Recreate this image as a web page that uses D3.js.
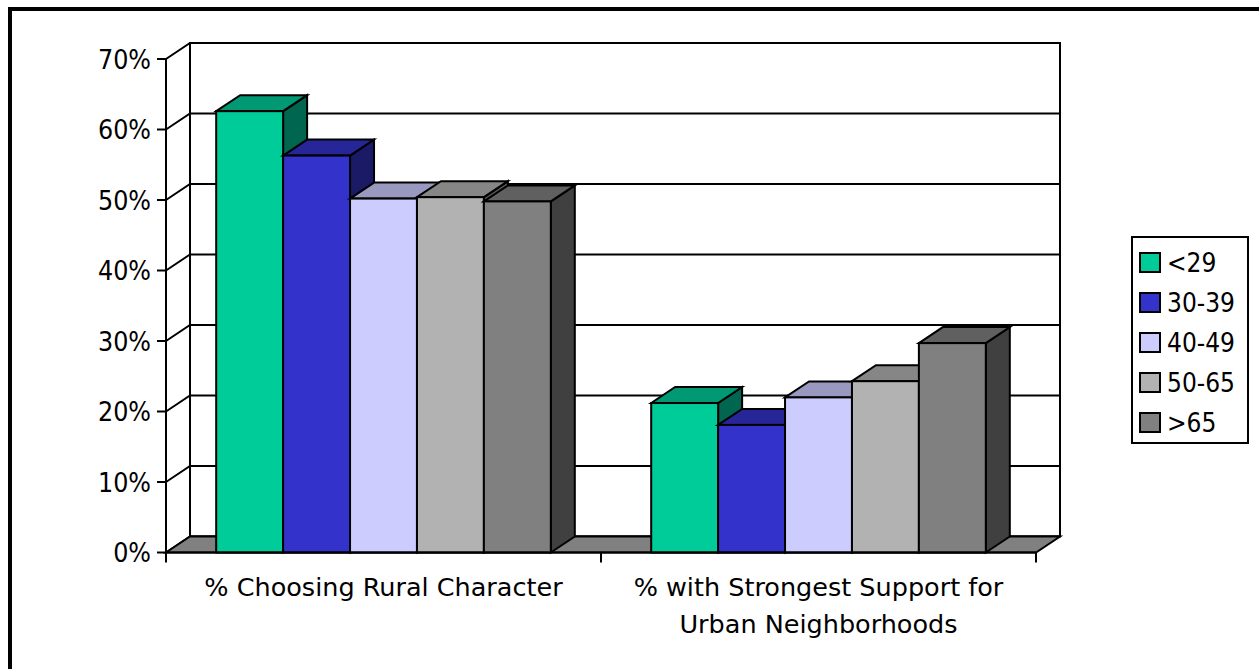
<!DOCTYPE html>
<html>
<head>
<meta charset="utf-8">
<script src="https://cdn.jsdelivr.net/npm/d3@7"></script>
<style>
  html, body { margin: 0; padding: 0; background: #fff; }
  svg { display: block; }
  text { font-family: "DejaVu Sans Condensed", "DejaVu Sans", sans-serif; font-stretch: condensed; fill: #000; }
  text.cat { font-family: "DejaVu Sans", sans-serif; font-stretch: normal; }
</style>
</head>
<body>
<svg id="chart" width="1259" height="669"></svg>
<script>
// Survey results by age group
const categories = [
  ["% Choosing Rural Character"],
  ["% with Strongest Support for", "Urban Neighborhoods"]
];
const seriesNames = ["<29", "30-39", "40-49", "50-65", ">65"];
const ruralCharacter = [62.6, 56.3, 50.2, 50.4, 49.8];
const urbanSupport   = [21.2, 18.1, 22.0, 24.3, 29.7];
const yTicks = [0, 10, 20, 30, 40, 50, 60, 70];
const tickLabels = ["0%", "10%", "20%", "30%", "40%", "50%", "60%", "70%"];

// front / top / side face shades per series
const colors = [
  { front: "#00CC99", top: "#009973", side: "#006650" },
  { front: "#3333CC", top: "#262699", side: "#1A1A66" },
  { front: "#CCCCFF", top: "#9999BF", side: "#666680" },
  { front: "#B2B2B2", top: "#868686", side: "#595959" },
  { front: "#808080", top: "#606060", side: "#404040" }
];

const values = [ruralCharacter, urbanSupport];

const svg = d3.select("#chart");
const x0 = 166, x1 = 1036;           // front plane, horizontal extent
const yFront0 = 552.5, yFront70 = 59; // front plane, vertical extent
const dx = 24, dy = -16;              // depth offset to the back wall

const y = d3.scaleLinear().domain([0, 70]).range([yFront0, yFront70]);
const xCat = d3.scaleBand().domain(d3.range(categories.length)).range([x0, x1]).padding(0);
const bw = xCat.bandwidth();
const barW = bw / (seriesNames.length + 1.5);
const xSer = d3.scaleBand().domain(d3.range(seriesNames.length))
  .range([barW * 0.75, bw - barW * 0.75]).padding(0);

const line = { stroke: "#000", "stroke-width": 2, fill: "none", "stroke-linejoin": "miter" };
function apply(sel, attrs) { for (const k in attrs) sel.attr(k, attrs[k]); return sel; }
const poly = pts => "M" + pts.map(p => p.join(",")).join("L") + "Z";

// outer chart border
svg.append("rect").attr("x", 10).attr("y", 9).attr("width", 1300).attr("height", 700)
  .attr("fill", "none").attr("stroke", "#000").attr("stroke-width", 4);

// back wall
apply(svg.append("rect")
  .attr("x", x0 + dx).attr("y", y(70) + dy)
  .attr("width", x1 - x0).attr("height", y(0) - y(70)), line).attr("fill", "#fff");

// gridlines on back and side walls
const grid = svg.append("g");
yTicks.forEach(t => {
  apply(grid.append("path").attr("d",
    `M${x0},${y(t)}L${x0 + dx},${y(t) + dy}L${x1 + dx},${y(t) + dy}`), line);
});
apply(grid.append("line").attr("x1", x0 + dx).attr("x2", x0 + dx)
  .attr("y1", y(70) + dy).attr("y2", y(0) + dy), line);

// floor
apply(svg.append("path").attr("d", poly([
  [x0, y(0)], [x0 + dx, y(0) + dy], [x1 + dx, y(0) + dy], [x1, y(0)]
])), line).attr("fill", "#808080");

// value axis
const yAxis = svg.append("g");
apply(yAxis.append("line").attr("x1", x0).attr("x2", x0).attr("y1", y(70)).attr("y2", y(0)), line);
yTicks.forEach((t, i) => {
  apply(yAxis.append("line").attr("x1", x0 - 9).attr("x2", x0).attr("y1", y(t)).attr("y2", y(t)), line);
  yAxis.append("text").attr("x", 151).attr("y", y(t)).attr("dy", "0.36em")
    .attr("text-anchor", "end").attr("font-size", 26.5).text(tickLabels[i]);
});

// bars
const bars = svg.append("g");
values.forEach((vals, ci) => {
  vals.forEach((v, si) => {
    const bx = xCat(ci) + xSer(si), w = xSer.bandwidth();
    const yt = y(v), yb = y(0);
    const c = colors[si];
    const g = bars.append("g");
    apply(g.append("path").attr("d", poly([
      [bx + w, yt], [bx + w + dx, yt + dy], [bx + w + dx, yb + dy], [bx + w, yb]
    ])), line).attr("fill", c.side);
    apply(g.append("path").attr("d", poly([
      [bx, yt], [bx + dx, yt + dy], [bx + w + dx, yt + dy], [bx + w, yt]
    ])), line).attr("fill", c.top);
    apply(g.append("rect").attr("x", bx).attr("y", yt).attr("width", w).attr("height", yb - yt), line)
      .attr("fill", c.front);
  });
});

// category axis
const xAxis = svg.append("g");
apply(xAxis.append("line").attr("x1", x0).attr("x2", x1).attr("y1", y(0)).attr("y2", y(0)), line);
d3.range(categories.length + 1).forEach(i => {
  const tx = x0 + i * bw;
  apply(xAxis.append("line").attr("x1", tx).attr("x2", tx).attr("y1", y(0)).attr("y2", y(0) + 10), line);
});
categories.forEach((lines, ci) => {
  const t = xAxis.append("text").attr("class", "cat").attr("text-anchor", "middle").attr("font-size", 25.5)
    .attr("x", xCat(ci) + bw / 2).attr("y", 596);
  lines.forEach((s, li) => t.append("tspan").attr("x", xCat(ci) + bw / 2)
    .attr("dy", li === 0 ? 0 : 37).text(s));
});

// legend
const lg = svg.append("g");
apply(lg.append("rect").attr("x", 1132).attr("y", 237).attr("width", 116).attr("height", 206), line)
  .attr("fill", "#fff");
seriesNames.forEach((name, i) => {
  const yy = 253 + i * 40;
  apply(lg.append("rect").attr("x", 1140).attr("y", yy).attr("width", 20).attr("height", 19), line)
    .attr("fill", colors[i].front);
  lg.append("text").attr("x", 1167).attr("y", yy + 9.5).attr("dy", "0.36em")
    .attr("font-size", 26).text(name);
});
</script>
</body>
</html>
